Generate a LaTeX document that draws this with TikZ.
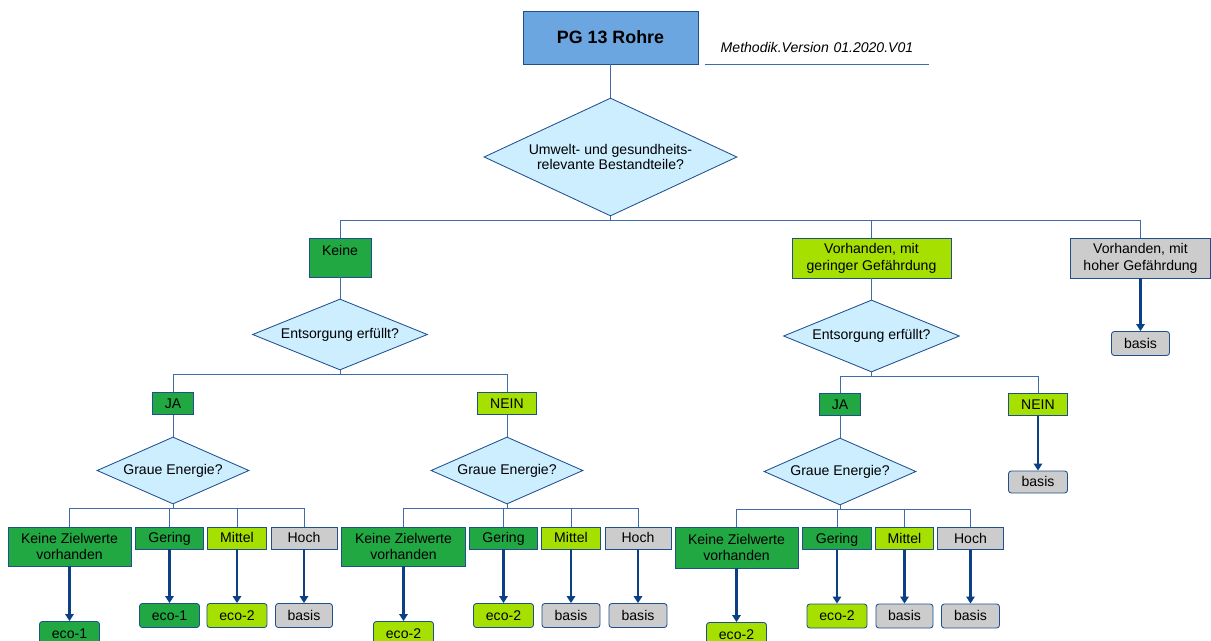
\documentclass[tikz,border=0pt]{standalone}
\usepackage{fontspec}
\setmainfont{Liberation Sans}
\usetikzlibrary{shapes,arrows,arrows.meta,positioning,calc}
\definecolor{boxblue}{HTML}{1F4F8F}
\definecolor{linkblue}{HTML}{3D6CA8}
\definecolor{arrowblue}{HTML}{0B3F86}
\definecolor{titlefill}{HTML}{6CA6E0}
\definecolor{askfill}{HTML}{CCEEFF}
\definecolor{darkgreen}{HTML}{22A843}
\definecolor{limegreen}{HTML}{A6E000}
\definecolor{lightgrey}{HTML}{CCCCCC}

\begin{document}
\begin{tikzpicture}[node distance=2cm, auto,
        font=\fontsize{10}{12}\selectfont,
        box/.style={rectangle, draw=boxblue, line width=0.6pt, align=center, inner sep=0pt},
        ask/.style={diamond, draw=boxblue, line width=0.6pt, fill=askfill, align=center, inner sep=0pt, aspect=2.3},
        greenbox/.style={box, fill=darkgreen},
        limebox/.style={box, fill=limegreen},
        greybox/.style={box, fill=lightgrey},
        lowbox/.style={minimum height=0.55cm, text height=7.2pt, text depth=0.5pt},
        result/.style={rounded corners=2pt, minimum height=0.6cm, text height=7.2pt, text depth=0.5pt},
        link/.style={draw=linkblue, line width=0.7pt},
        flow/.style={draw=arrowblue, line width=2pt, -{Triangle[length=5pt,width=6pt]}}]
        \useasboundingbox (-15.2625,0.9375) rectangle (15.0125,-15.0875);

        % Define nodes
        \node (title) [box, fill=titlefill, minimum width=4.375cm, minimum height=1.325cm, font=\bfseries\fontsize{12.7}{15}\selectfont] {PG 13 Rohre};
        \node (version) [right of=title, node distance=5.1625cm, yshift=-0.2375cm, inner sep=0pt, text width=5.6cm, align=center, font=\itshape\fontsize{10}{12}\selectfont] {Methodik.Version 01.2020.V01};
        \node (umwelt) [ask, below of=title, node distance=2.9875cm, minimum width=6.325cm, minimum height=2.95cm, font=\fontsize{10}{10.8}\selectfont] {Umwelt- und gesundheits-\\relevante Bestandteile?};
        \node (keine) [greenbox, below of=umwelt, node distance=2.5125cm, xshift=-6.7625cm, minimum width=1.55cm, minimum height=0.975cm, text height=7.2pt, text depth=10pt] {Keine};
        \node (vorhanden_gering) [limebox, below of=umwelt, node distance=2.525cm, xshift=6.525cm, minimum width=3.975cm, minimum height=1cm] {Vorhanden, mit\\geringer Gefährdung};
        \node (vorhanden_hoch) [greybox, right of=vorhanden_gering, node distance=6.725cm, minimum width=3.5cm, minimum height=1cm] {Vorhanden, mit\\hoher Gefährdung};
        \node (basis_vorhanden_hoch) [greybox, result, below of=vorhanden_hoch, node distance=2.1375cm, minimum width=1.45cm] {basis};

        % Keine
        \node (entsorgung_keine) [ask, below of=keine, node distance=1.925cm, minimum width=4.375cm, minimum height=1.775cm] {Entsorgung erfüllt?};
        \node (ja_keine) [greenbox, lowbox, below of=entsorgung_keine, node distance=1.725cm, xshift=-4.175cm, minimum width=1.025cm] {JA};
        \node (nein_keine) [limebox, lowbox, below of=entsorgung_keine, node distance=1.725cm, xshift=4.175cm, minimum width=1.475cm] {NEIN};
        \node (graue_a) [ask, below of=ja_keine, node distance=1.675cm, minimum width=3.8cm, minimum height=1.675cm] {Graue Energie?};
        \node (graue_b) [ask, below of=nein_keine, node distance=1.675cm, minimum width=3.8cm, minimum height=1.675cm] {Graue Energie?};

        \node (ziel_a) [greenbox, below of=graue_a, node distance=1.9cm, xshift=-2.5875cm, minimum width=3.075cm, minimum height=0.975cm] {Keine Zielwerte\\vorhanden};
        \node (gering_a) [greenbox, lowbox, below of=graue_a, node distance=1.6875cm, xshift=-0.0875cm, minimum width=1.7cm] {Gering};
        \node (mittel_a) [limebox, lowbox, right of=gering_a, node distance=1.6875cm, minimum width=1.475cm] {Mittel};
        \node (hoch_a) [greybox, lowbox, right of=mittel_a, node distance=1.675cm, minimum width=1.65cm] {Hoch};
        \node (eco_ziel_a) [greenbox, result, below of=ziel_a, node distance=2.175cm, minimum width=1.5cm] {eco-1};
        \node (eco_gering_a) [greenbox, result, below of=gering_a, node distance=1.9375cm, minimum width=1.5cm] {eco-1};
        \node (eco_mittel_a) [limebox, result, below of=mittel_a, node distance=1.9375cm, minimum width=1.5cm] {eco-2};
        \node (basis_hoch_a) [greybox, result, below of=hoch_a, node distance=1.9375cm, minimum width=1.425cm] {basis};

        \node (ziel_b) [greenbox, below of=graue_b, node distance=1.9cm, xshift=-2.5875cm, minimum width=3.1cm, minimum height=0.975cm] {Keine Zielwerte\\vorhanden};
        \node (gering_b) [greenbox, lowbox, below of=graue_b, node distance=1.6875cm, xshift=-0.0875cm, minimum width=1.7cm] {Gering};
        \node (mittel_b) [limebox, lowbox, right of=gering_b, node distance=1.6875cm, minimum width=1.475cm] {Mittel};
        \node (hoch_b) [greybox, lowbox, right of=mittel_b, node distance=1.675cm, minimum width=1.65cm] {Hoch};
        \node (eco_ziel_b) [limebox, result, below of=ziel_b, node distance=2.175cm, minimum width=1.5cm] {eco-2};
        \node (eco_gering_b) [limebox, result, below of=gering_b, node distance=1.9375cm, minimum width=1.5cm] {eco-2};
        \node (basis_mittel_b) [greybox, result, below of=mittel_b, node distance=1.9375cm, minimum width=1.45cm] {basis};
        \node (basis_hoch_b) [greybox, result, below of=hoch_b, node distance=1.9375cm, minimum width=1.45cm] {basis};

        % Vorhanden, mit geringer Gefaehrdung
        \node (entsorgung_gering) [ask, below of=vorhanden_gering, node distance=1.95cm, minimum width=4.4cm, minimum height=1.8cm] {Entsorgung erfüllt?};
        \node (ja_gering) [greenbox, lowbox, below of=entsorgung_gering, node distance=1.7125cm, xshift=-0.7875cm, minimum width=1.025cm] {JA};
        \node (nein_gering) [limebox, lowbox, below of=entsorgung_gering, node distance=1.7125cm, xshift=4.1625cm, minimum width=1.475cm] {NEIN};
        \node (basis_nein_gering) [greybox, result, below of=nein_gering, node distance=1.9375cm, minimum width=1.475cm, minimum height=0.55cm] {basis};
        \node (graue_c) [ask, below of=ja_gering, node distance=1.675cm, minimum width=3.8cm, minimum height=1.675cm] {Graue Energie?};

        \node (ziel_c) [greenbox, below of=graue_c, node distance=1.9cm, xshift=-2.5875cm, minimum width=3.075cm, minimum height=1.025cm] {Keine Zielwerte\\vorhanden};
        \node (gering_c) [greenbox, lowbox, below of=graue_c, node distance=1.675cm, xshift=-0.075cm, minimum width=1.725cm] {Gering};
        \node (mittel_c) [limebox, lowbox, right of=gering_c, node distance=1.6875cm, minimum width=1.45cm] {Mittel};
        \node (hoch_c) [greybox, lowbox, right of=mittel_c, node distance=1.65cm, minimum width=1.65cm] {Hoch};
        \node (eco_ziel_c) [limebox, result, below of=ziel_c, node distance=2.175cm, minimum width=1.5cm] {eco-2};
        \node (eco_gering_c) [limebox, result, below of=gering_c, node distance=1.9375cm, minimum width=1.5cm] {eco-2};
        \node (basis_mittel_c) [greybox, result, below of=mittel_c, node distance=1.9375cm, minimum width=1.425cm] {basis};
        \node (basis_hoch_c) [greybox, result, below of=hoch_c, node distance=1.9375cm, minimum width=1.45cm] {basis};

        % Draw lines
        \draw[link] ([yshift=-0.425cm]version.west) -- ([yshift=-0.425cm]version.east);
        \draw[link] (title) -- (umwelt);
        \draw[link] (umwelt.south) -- ++(0,-0.1) coordinate (bus_umwelt) -| (keine);
        \draw[link] (bus_umwelt) -| (vorhanden_gering);
        \draw[link] (bus_umwelt) -| (vorhanden_hoch);

        \draw[link] (keine) -- (entsorgung_keine);
        \draw[link] (entsorgung_keine.south) -- ++(0,-0.1) coordinate (bus_keine) -| (ja_keine);
        \draw[link] (bus_keine) -| (nein_keine);
        \draw[link] (ja_keine) -- (graue_a);
        \draw[link] (nein_keine) -- (graue_b);

        \draw[link] (vorhanden_gering) -- (entsorgung_gering);
        \draw[link] (entsorgung_gering.south) -- ++(0,-0.1) coordinate (bus_gering) -| (ja_gering);
        \draw[link] (bus_gering) -| (nein_gering);
        \draw[link] (ja_gering) -- (graue_c);

        \draw[link] (graue_a.south) -- ++(0,-0.1) coordinate (bus_a) -| (ziel_a);
        \draw[link] (bus_a) -| (gering_a);
        \draw[link] (bus_a) -| (mittel_a);
        \draw[link] (bus_a) -| (hoch_a);
        \draw[link] (graue_b.south) -- ++(0,-0.1) coordinate (bus_b) -| (ziel_b);
        \draw[link] (bus_b) -| (gering_b);
        \draw[link] (bus_b) -| (mittel_b);
        \draw[link] (bus_b) -| (hoch_b);
        \draw[link] (graue_c.south) -- ++(0,-0.1) coordinate (bus_c) -| (ziel_c);
        \draw[link] (bus_c) -| (gering_c);
        \draw[link] (bus_c) -| (mittel_c);
        \draw[link] (bus_c) -| (hoch_c);

        % Draw arrows
        \draw[flow] (vorhanden_hoch) -- (basis_vorhanden_hoch);
        \draw[flow] (nein_gering) -- (basis_nein_gering);
        \draw[flow] (ziel_a) -- (eco_ziel_a);
        \draw[flow] (gering_a) -- (eco_gering_a);
        \draw[flow] (mittel_a) -- (eco_mittel_a);
        \draw[flow] (hoch_a) -- (basis_hoch_a);
        \draw[flow] (ziel_b) -- (eco_ziel_b);
        \draw[flow] (gering_b) -- (eco_gering_b);
        \draw[flow] (mittel_b) -- (basis_mittel_b);
        \draw[flow] (hoch_b) -- (basis_hoch_b);
        \draw[flow] (ziel_c) -- (eco_ziel_c);
        \draw[flow] (gering_c) -- (eco_gering_c);
        \draw[flow] (mittel_c) -- (basis_mittel_c);
        \draw[flow] (hoch_c) -- (basis_hoch_c);
    \end{tikzpicture}
\end{document}
